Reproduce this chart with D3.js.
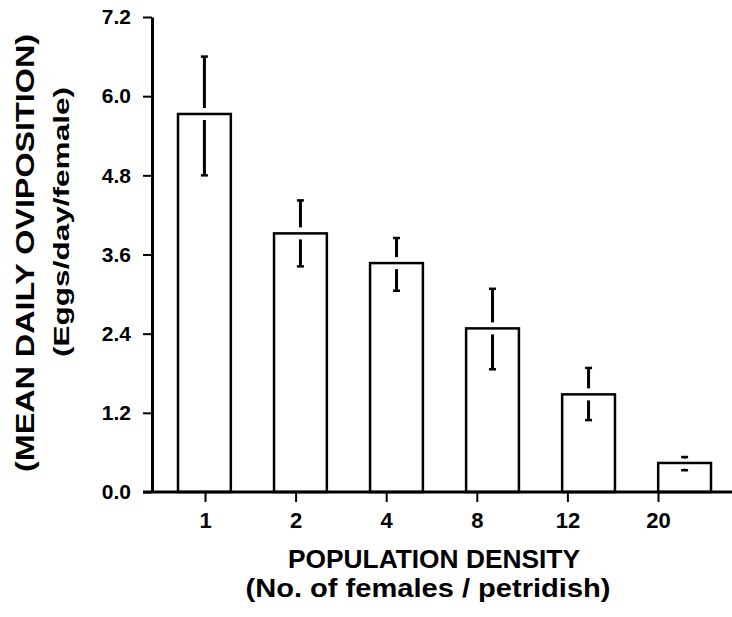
<!DOCTYPE html>
<html>
<head>
<meta charset="utf-8">
<script src="https://cdn.jsdelivr.net/npm/d3@7"></script>
<style>
  html, body { margin: 0; padding: 0; background: #fff; }
  svg { display: block; }
  text { font-family: "Liberation Sans", Arial, sans-serif; fill: #000; }
</style>
</head>
<body>
<div id="chart"></div>
<script>
'use strict';

// population density (no. of females per petridish)
const densities = ['1', '2', '4', '8', '12', '20'];
// mean daily oviposition (eggs/day/female)
const means = [5.73, 3.92, 3.47, 2.48, 1.48, 0.44];
const errHigh = [6.6, 4.42, 3.85, 3.08, 1.88, 0.53];
const errLow = [4.8, 3.42, 3.05, 1.86, 1.09, 0.33];
const yTicks = [0, 1.2, 2.4, 3.6, 4.8, 6.0, 7.2];

const width = 732;
const height = 617;

const svg = d3.select('#chart').append('svg')
    .attr('width', width)
    .attr('height', height);

const y = d3.scaleLinear()
    .domain([0, 7.2])
    .range([492, 17]);

// bars sit on a slightly wider grid than the tick marks in the original
const xBar = d3.scaleBand()
    .domain(densities)
    .range([178, 711])
    .paddingInner(0.45)
    .paddingOuter(0);

const xTick = d3.scalePoint()
    .domain(densities)
    .range([205, 658]);

// bars
svg.append('g').selectAll('rect')
    .data(densities)
    .join('rect')
    .attr('x', d => xBar(d))
    .attr('y', (d, i) => y(means[i]))
    .attr('width', xBar.bandwidth())
    .attr('height', (d, i) => y(0) - y(means[i]))
    .attr('fill', '#fff')
    .attr('stroke', '#000')
    .attr('stroke-width', 2.5);

// error bars, broken where they cross the bar top
const gap = 6;
const err = svg.append('g')
    .attr('stroke', '#000')
    .attr('stroke-width', 3);
densities.forEach(function(d, i) {
    var cx = xBar(d) + xBar.bandwidth() / 2;
    var top = y(errHigh[i]);
    var bot = y(errLow[i]);
    var mid = y(means[i]);
    err.append('line')
        .attr('x1', cx).attr('x2', cx)
        .attr('y1', top).attr('y2', Math.max(top + 1.5, mid - gap));
    err.append('line')
        .attr('x1', cx).attr('x2', cx)
        .attr('y1', Math.min(bot - 1.5, mid + gap)).attr('y2', bot);
    [top, bot].forEach(function(v) {
        err.append('line')
            .attr('x1', cx - 3.5).attr('x2', cx + 3.5)
            .attr('y1', v).attr('y2', v)
            .attr('stroke-width', 2.5);
    });
});

// y axis
const yAxis = svg.append('g')
    .attr('transform', 'translate(152,0)')
    .call(d3.axisLeft(y)
        .tickValues(yTicks)
        .tickFormat(d3.format('.1f'))
        .tickSize(9)
        .tickSizeOuter(0)
        .tickPadding(12));
yAxis.select('.domain').attr('stroke-width', 3);
yAxis.selectAll('.tick line').attr('stroke-width', 2);
yAxis.selectAll('.tick text')
    .style('font-size', '21px')
    .style('font-weight', 'bold');

// x axis
const xAxis = svg.append('g')
    .attr('transform', 'translate(0,492)')
    .call(d3.axisBottom(xTick)
        .tickSize(10)
        .tickSizeOuter(0)
        .tickPadding(10));
xAxis.select('.domain').remove();
xAxis.selectAll('.tick line').attr('stroke-width', 2);
xAxis.selectAll('.tick text')
    .style('font-size', '22px')
    .style('font-weight', 'bold');
svg.append('line')
    .attr('x1', 143).attr('x2', width)
    .attr('y1', 492).attr('y2', 492)
    .attr('stroke', '#000')
    .attr('stroke-width', 3);

// axis titles
svg.append('text')
    .attr('transform', 'translate(34,253) rotate(-90)')
    .attr('text-anchor', 'middle')
    .attr('textLength', 438)
    .attr('lengthAdjust', 'spacingAndGlyphs')
    .style('font-size', '25px')
    .style('font-weight', 'bold')
    .text('(MEAN DAILY OVIPOSITION)');

svg.append('text')
    .attr('transform', 'translate(69,222) rotate(-90)')
    .attr('text-anchor', 'middle')
    .attr('textLength', 270)
    .attr('lengthAdjust', 'spacingAndGlyphs')
    .style('font-size', '22px')
    .style('font-weight', 'bold')
    .text('(Eggs/day/female)');

svg.append('text')
    .attr('x', 434)
    .attr('y', 568)
    .attr('text-anchor', 'middle')
    .attr('textLength', 292)
    .attr('lengthAdjust', 'spacingAndGlyphs')
    .style('font-size', '26px')
    .style('font-weight', 'bold')
    .text('POPULATION DENSITY');

svg.append('text')
    .attr('x', 428)
    .attr('y', 597)
    .attr('text-anchor', 'middle')
    .attr('textLength', 365)
    .attr('lengthAdjust', 'spacingAndGlyphs')
    .style('font-size', '25px')
    .style('font-weight', 'bold')
    .text('(No. of females / petridish)');
</script>
</body>
</html>
